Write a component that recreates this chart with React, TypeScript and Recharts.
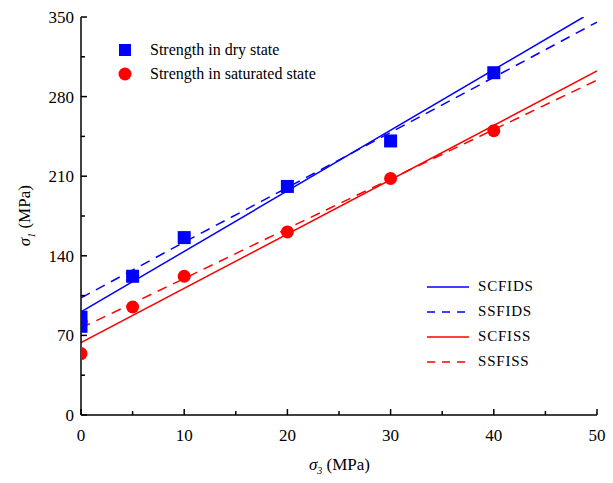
import React from "react";
import { ComposedChart, Line, Scatter, XAxis, YAxis } from "recharts";

const FONT = "Liberation Serif, Times New Roman, serif";

const xTicks = [0, 5, 10, 15, 20, 25, 30, 35, 40, 45, 50];
const yTicks = [0, 35, 70, 105, 140, 175, 210, 245, 280, 315, 350];

const dryPoints = [
  { x: 0, y: 78 },
  { x: 0, y: 86 },
  { x: 5, y: 122 },
  { x: 10, y: 156 },
  { x: 20, y: 201 },
  { x: 30, y: 241 },
  { x: 40, y: 301 },
];
const saturatedPoints = [
  { x: 0, y: 54 },
  { x: 5, y: 95 },
  { x: 10, y: 122 },
  { x: 20, y: 161 },
  { x: 30, y: 208 },
  { x: 40, y: 250 },
];

const scfids = [
  { x: 0, y: 90.6 },
  { x: 48.7, y: 350 },
];
const ssfids = [
  { x: 0, y: 103 },
  { x: 10, y: 152 },
  { x: 20, y: 200 },
  { x: 30, y: 248.5 },
  { x: 40, y: 297 },
  { x: 50, y: 345.5 },
];
const scfiss = [
  { x: 0, y: 63.6 },
  { x: 50, y: 302.5 },
];
const ssfiss = [
  { x: 0, y: 76.5 },
  { x: 10, y: 120 },
  { x: 20, y: 164 },
  { x: 30, y: 207.5 },
  { x: 40, y: 251 },
  { x: 50, y: 294.5 },
];

const lineSeries = [
  { name: "SCFIDS", data: scfids, color: "#0000ff", dash: undefined },
  { name: "SSFIDS", data: ssfids, color: "#0000ff", dash: "10 7" },
  { name: "SCFISS", data: scfiss, color: "#ff0000", dash: undefined },
  { name: "SSFISS", data: ssfiss, color: "#ff0000", dash: "10 7" },
];

const TICK_MARGIN = 8;

const XTick = (props: any) => {
  const { x, y, payload } = props;
  const major = payload.value % 10 === 0;
  const axisY = y - TICK_MARGIN;
  return (
    <g>
      <line x1={x} x2={x} y1={axisY} y2={axisY - (major ? 6 : 4)} stroke="#000" strokeWidth={1.5} />
      {major && (
        <text x={x} y={axisY + 26} textAnchor="middle" fontFamily={FONT} fontSize={17} fill="#000" stroke="none">
          {payload.value}
        </text>
      )}
    </g>
  );
};

const YTick = (props: any) => {
  const { x, y, payload } = props;
  const major = payload.value % 70 === 0;
  const axisX = x + TICK_MARGIN;
  return (
    <g>
      <line x1={axisX} x2={axisX + (major ? 6 : 4)} y1={y} y2={y} stroke="#000" strokeWidth={1.5} />
      {major && (
        <text x={axisX - 7} y={y + 6} textAnchor="end" fontFamily={FONT} fontSize={17} fill="#000" stroke="none">
          {payload.value}
        </text>
      )}
    </g>
  );
};

const Square = (props: any) => {
  const { cx, cy } = props;
  return <rect x={cx - 6.5} y={cy - 6.5} width={13} height={13} fill="#0000ff" />;
};
const Dot = (props: any) => {
  const { cx, cy } = props;
  return <circle cx={cx} cy={cy} r={6.5} fill="#ff0000" />;
};

const Legends = () => (
  <div style={{ position: "absolute", left: 0, top: 0, width: 613, height: 483, fontFamily: FONT, color: "#000", pointerEvents: "none" }}>
    <div style={{ position: "absolute", left: 118, top: 38, fontSize: 16, lineHeight: "24px" }}>
      <div style={{ display: "flex", alignItems: "center" }}>
        <svg width={32} height={24}>
          <rect x={1} y={6} width={12} height={12} fill="#0000ff" />
        </svg>
        <span>Strength in dry state</span>
      </div>
      <div style={{ display: "flex", alignItems: "center" }}>
        <svg width={32} height={24}>
          <circle cx={7} cy={12} r={6.5} fill="#ff0000" />
        </svg>
        <span>Strength in saturated state</span>
      </div>
    </div>
    <div style={{ position: "absolute", left: 426, top: 274, fontSize: 15, lineHeight: "25px" }}>
      {lineSeries.map((s) => (
        <div key={s.name} style={{ display: "flex", alignItems: "center" }}>
          <svg width={52} height={25}>
            <line x1={1} x2={43} y1={13} y2={13} stroke={s.color} strokeWidth={1.5} strokeDasharray={s.dash ? "8 7" : undefined} />
          </svg>
          <span style={{ letterSpacing: 0.8 }}>{s.name}</span>
        </div>
      ))}
    </div>
    <div style={{ position: "absolute", left: 0, top: 455, width: 613, paddingLeft: 66, boxSizing: "border-box", textAlign: "center", fontSize: 17 }}>
      <i>σ</i><sub style={{ fontSize: 10, fontStyle: "italic" }}>3</sub> (MPa)
    </div>
    <div style={{ position: "absolute", left: 26, top: 216, width: 120, marginLeft: -60, marginTop: -11, textAlign: "center", fontSize: 17, transform: "rotate(-90deg)", whiteSpace: "nowrap" }}>
      <i>σ</i><sub style={{ fontSize: 10, fontStyle: "italic" }}>1</sub> (MPa)
    </div>
  </div>
);

export default function App() {
  return (
    <div style={{ position: "absolute", left: 0, top: 0, width: 613, height: 483, background: "#fff", fontFamily: FONT }}>
      <ComposedChart width={613} height={483} margin={{ top: 17, right: 16, bottom: 0, left: 0 }}>
        <XAxis
          type="number"
          dataKey="x"
          domain={[0, 50]}
          ticks={xTicks}
          tickSize={0}
          tickMargin={TICK_MARGIN}
          tick={<XTick />}
          height={68}
          stroke="#000"
          strokeWidth={1.5}
          allowDataOverflow
        />
        <YAxis
          type="number"
          dataKey="y"
          domain={[0, 350]}
          ticks={yTicks}
          tickSize={0}
          tickMargin={TICK_MARGIN}
          tick={<YTick />}
          width={81}
          stroke="#000"
          strokeWidth={1.5}
          allowDataOverflow
        />
        {lineSeries.map((s) => (
          <Line
            key={s.name}
            data={s.data}
            dataKey="y"
            type="linear"
            stroke={s.color}
            strokeWidth={1.5}
            strokeDasharray={s.dash}
            dot={false}
            activeDot={false}
            isAnimationActive={false}
          />
        ))}
        <Scatter data={dryPoints} dataKey="y" shape={<Square />} isAnimationActive={false} />
        <Scatter data={saturatedPoints} dataKey="y" shape={<Dot />} isAnimationActive={false} />
      </ComposedChart>
      <Legends />
    </div>
  );
}
